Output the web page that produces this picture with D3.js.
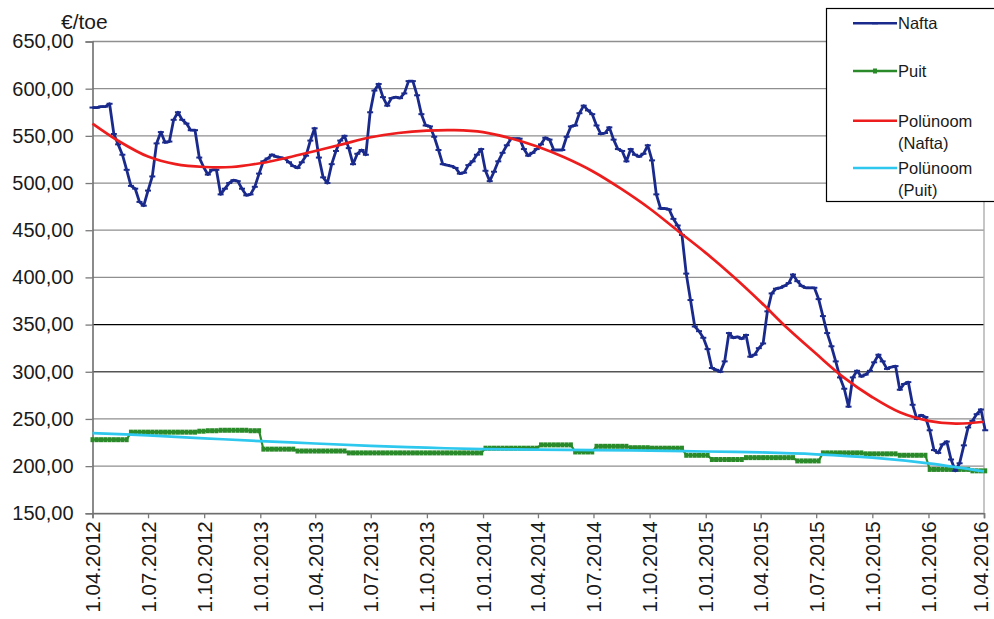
<!DOCTYPE html>
<html><head><meta charset="utf-8">
<script src="https://cdn.jsdelivr.net/npm/d3@7"></script>
<style>
body{margin:0;background:#fff}
svg{display:block}
text{font-family:"Liberation Sans",Arial,sans-serif;fill:#1a1a1a}
</style>
</head><body><svg id="c" width="994" height="619"></svg>
<script>
// ---------- data ----------
const startDate = "1.04.2012";   // first weekly observation
const naftaValues = [
580,580,581,581,584,552,541,530,514,497,
494,480,476,492,507,542,554,543,544,567,
575,567,563,556,556,527,517,509,514,514,
488,494,500,503,502,494,487,488,496,510,
523,526,530,528,527,526,522,518,516,522,
529,545,558,527,506,500,520,534,545,550,
537,520,531,535,530,575,598,605,591,582,
590,591,590,595,608,608,593,573,561,560,
549,535,520,519,518,516,510,511,519,523,
530,536,513,502,512,523,532,540,547,547,
547,536,529,532,536,541,548,546,535,535,
535,549,560,561,574,582,577,573,561,552,
553,559,546,536,534,523,536,530,528,531,
540,524,488,473,473,472,462,455,445,404,
376,348,343,336,324,304,302,300,311,341,
336,337,335,339,316,318,325,330,364,383,
388,389,391,394,403,396,391,389,389,389,
377,359,341,327,311,294,282,263,294,301,
295,297,301,310,318,311,303,305,306,281,
287,289,265,250,254,252,238,217,214,223,
226,207,195,203,222,241,248,255,260,238
];
const puitValues = [
228,228,228,228,228,228,228,228,228,
236,236,236,236,236,236,236,236,236,236,236,236,236,236,236,236,
237,237,237.5,237.5,237.5,238,238,238,238,238,238,238,237.5,237.5,237.5,
218,218,218,218,218,218,218,218,
216,216,216,216,216,216,216,216,216,216,216,216,
214,214,214,214,214,214,214,214,214,214,214,214,214,214,214,214,
214,214,214,214,214,214,214,214,214,214,214,214,214,214,214,214,
219,219,219,219,219,219,219,219,219,219,219,219,219,
222.5,222.5,222.5,222.5,222.5,222.5,222.5,222.5,
215,215,215,215,215,
221,221,221,221,221,221,221,221,219.5,219.5,219.5,219.5,219.5,
219,219,219,219,219,219,219,219,
211.5,211.5,211.5,211.5,211.5,211.5,
207,207,207,207,207,207,207,207,
209,209,209,209,209,209,209,209,209,209,209,209,
205.5,205.5,205.5,205.5,205.5,205.5,
214,214,214,214,214,214,214,214,214,214,
213,213,213,213,213,213,213,213,
211.5,211.5,211.5,211.5,211.5,211.5,211.5,
196.5,196.5,196.5,196.5,196.5,196.5,196.5,196.5,196.5,196.5,
195,195,195,195
];
const xTickLabels = ["1.04.2012","1.07.2012","1.10.2012","1.01.2013","1.04.2013","1.07.2013",
  "1.10.2013","1.01.2014","1.04.2014","1.07.2014","1.10.2014","1.01.2015","1.04.2015",
  "1.07.2015","1.10.2015","1.01.2016","1.04.2016"];
const yTicks = [150,200,250,300,350,400,450,500,550,600,650];
const polyNaftaDates = ["1.04.2012","15.05.2012","1.07.2012","15.08.2012","1.10.2012","15.11.2012",
  "1.01.2013","15.02.2013","1.04.2013","15.05.2013","1.07.2013","15.08.2013","1.10.2013","15.11.2013",
  "1.01.2014","15.02.2014","1.04.2014","15.05.2014","1.07.2014","15.08.2014","1.10.2014","15.11.2014",
  "1.01.2015","15.02.2015","1.04.2015","15.05.2015","1.07.2015","15.08.2015","1.10.2015","15.11.2015",
  "1.01.2016","15.02.2016","1.04.2016"];
const polyNafta = [563,544,528,520,517,517,521,527,534,541,548.5,553,555.5,556,554,547.5,538.5,527,
  512,494,473,450,426,401,374,346,319,294,273,257,248,245,247];
const polyPuitDates = xTickLabels;
const polyPuit = [235,232.5,229.5,226.5,224,221.5,219.5,218,217.5,217,216.5,215.5,214.5,212.5,209,203,194.5];
const seriesNames = ["Nafta","Puit","Polünoom|(Nafta)","Polünoom|(Puit)"];
const unitLabel = "€/toe";

// ---------- chart ----------
const svg = d3.select("#c");
const parse = d3.timeParse("%d.%m.%Y");
const L = 92.5, R = 984, T = 41.5, B = 513.3;
const x = d3.scaleTime().domain([parse(xTickLabels[0]), parse(xTickLabels[xTickLabels.length-1])]).range([L, R]);
const y = d3.scaleLinear().domain([150, 650]).range([B, T]);

const col = {nafta:"#1a2a8c", puit:"#2a8a2a", pn:"#ee1d1d", pp:"#2ec8ee"};

// gridlines
svg.append("g").selectAll("line").data(yTicks).join("line")
  .attr("x1", L).attr("x2", R).attr("y1", d => y(d)).attr("y2", d => y(d))
  .attr("stroke", d => d === 350 ? "#000" : (d === 300 ? "#555" : "#8f8f8f"))
  .attr("stroke-width", 1.3);
// right border
svg.append("line").attr("x1", R).attr("x2", R).attr("y1", T).attr("y2", B)
  .attr("stroke", "#a8a8a8").attr("stroke-width", 1.3);

// axes
const fmt = d => d3.format(".2f")(d).replace(".", ",");
const yAx = svg.append("g").attr("transform", `translate(${L},0)`)
  .call(d3.axisLeft(y).tickValues(yTicks).tickSize(7).tickPadding(12).tickFormat(fmt));
yAx.select(".domain").attr("stroke", "#6e6e6e").attr("stroke-width", 1.6);
yAx.selectAll(".tick line").attr("stroke", "#7a7a7a").attr("stroke-width", 1.3);
yAx.selectAll("text").style("font-size", "20px").attr("fill", "#222");

const xDates = xTickLabels.map(parse);
const xAx = svg.append("g").attr("transform", `translate(0,${B})`)
  .call(d3.axisBottom(x).tickValues(xDates).tickSize(5)
    .tickFormat((d, i) => xTickLabels[i]));
xAx.select(".domain").attr("stroke", "#6e6e6e").attr("stroke-width", 1.6);
xAx.selectAll(".tick line").attr("stroke", "#7a7a7a").attr("stroke-width", 1.3);
const nT = xTickLabels.length;
xAx.selectAll("text").style("font-size", "20.5px").attr("fill", "#222")
  .attr("transform", "rotate(-90)").attr("text-anchor", "end")
  .attr("x", -8).attr("y", 0).attr("dy", (d, i) => i === nT - 1 ? "0.16em" : "0.34em");

// unit label
svg.append("text").attr("x", 61).attr("y", 29).style("font-size", "21px").attr("fill", "#222").text(unitLabel);

// series data
const start = parse(startDate);
const nafta = naftaValues.map((v, i) => ({d: d3.timeDay.offset(start, 7 * i), v}));
const puit = puitValues.map((v, i) => ({d: d3.timeDay.offset(start, 7 * i), v}));
const pn = polyNafta.map((v, i) => ({d: parse(polyNaftaDates[i]), v}));
const pp = polyPuit.map((v, i) => ({d: parse(polyPuitDates[i]), v}));

const line = d3.line().x(d => x(d.d)).y(d => y(d.v));
const smooth = d3.line().x(d => x(d.d)).y(d => y(d.v)).curve(d3.curveCatmullRom.alpha(0.5));

// Puit
svg.append("path").datum(puit).attr("d", line).attr("fill", "none")
  .attr("stroke", col.puit).attr("stroke-width", 2.2);
svg.append("g").selectAll("rect").data(puit).join("rect")
  .attr("x", d => x(d.d) - 2).attr("y", d => y(d.v) - 2.5).attr("width", 4).attr("height", 5)
  .attr("fill", col.puit);

// Nafta
svg.append("path").datum(nafta).attr("d", line).attr("fill", "none")
  .attr("stroke", col.nafta).attr("stroke-width", 2.8).attr("stroke-linejoin", "round");
svg.append("g").selectAll("line").data(nafta).join("line")
  .attr("x1", d => x(d.d) - 3).attr("x2", d => x(d.d) + 3)
  .attr("y1", d => y(d.v)).attr("y2", d => y(d.v))
  .attr("stroke", col.nafta).attr("stroke-width", 2);

// trendlines
svg.append("path").datum(pn).attr("d", smooth).attr("fill", "none")
  .attr("stroke", col.pn).attr("stroke-width", 2.7);
svg.append("path").datum(pp).attr("d", smooth).attr("fill", "none")
  .attr("stroke", col.pp).attr("stroke-width", 2.7);

// legend
const lg = svg.append("g");
lg.append("rect").attr("x", 826.5).attr("y", 8.5).attr("width", 200).attr("height", 193)
  .attr("fill", "#fff").attr("stroke", "#000").attr("stroke-width", 1.2);
const lgY = [23.3, 71, 120.7, 168];
const lgCol = [col.nafta, col.puit, col.pn, col.pp];
seriesNames.forEach((name, i) => {
  const g = lg.append("g");
  g.append("line").attr("x1", 853).attr("x2", 897).attr("y1", lgY[i]).attr("y2", lgY[i])
    .attr("stroke", lgCol[i]).attr("stroke-width", 2.6);
  if (i === 0) g.append("line").attr("x1", 872).attr("x2", 878).attr("y1", lgY[i]).attr("y2", lgY[i])
    .attr("stroke", lgCol[i]).attr("stroke-width", 2);
  if (i === 1) g.append("rect").attr("x", 873).attr("y", lgY[i] - 2.5).attr("width", 4).attr("height", 5)
    .attr("fill", lgCol[i]);
  const parts = name.split("|");
  parts.forEach((p, j) => {
    g.append("text").attr("x", 898).attr("y", lgY[i] + 6 + j * 22)
      .style("font-size", "16.5px").attr("fill", "#222").text(p);
  });
});
</script>
</body></html>
